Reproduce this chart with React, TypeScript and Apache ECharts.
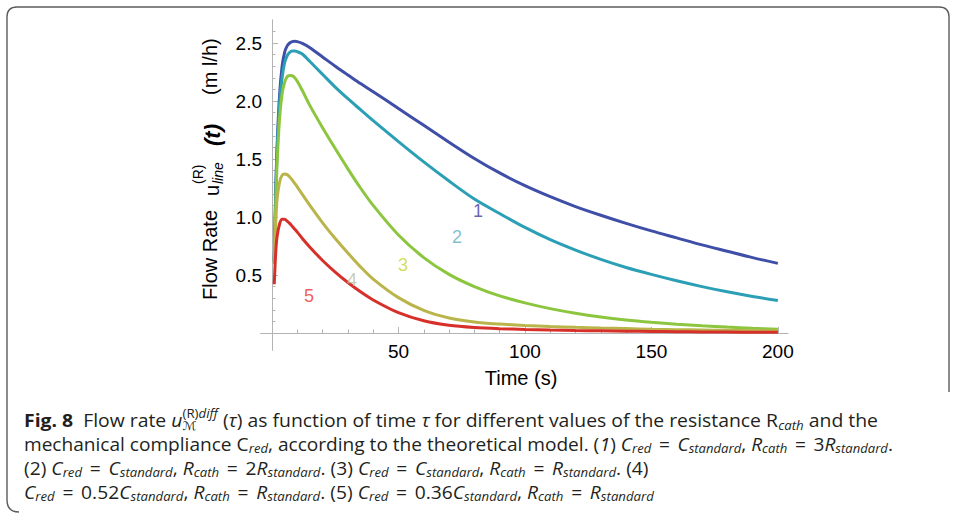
import React, { useEffect, useRef } from "react";
import * as echarts from "echarts";

// ---------- data ----------
const TIME = [0.9, 1.5, 2, 3, 4, 5, 6, 7, 8, 9, 10, 12, 15, 20, 25, 30, 35, 40, 50, 60, 70, 80, 90, 100, 110, 120, 130, 140, 150, 160, 170, 180, 190, 200];
const S1 = [0.62, 1.25, 1.6, 2.05, 2.3, 2.42, 2.475, 2.5, 2.512, 2.515, 2.512, 2.497, 2.46, 2.38, 2.3, 2.225, 2.15, 2.08, 1.935, 1.79, 1.645, 1.505, 1.38, 1.27, 1.175, 1.09, 1.015, 0.945, 0.88, 0.82, 0.76, 0.705, 0.65, 0.6];
const S2 = [0.62, 1.2, 1.55, 1.98, 2.2, 2.33, 2.39, 2.42, 2.43, 2.43, 2.425, 2.405, 2.34, 2.23, 2.12, 2.02, 1.925, 1.83, 1.65, 1.475, 1.31, 1.155, 1.03, 0.91, 0.805, 0.715, 0.635, 0.565, 0.505, 0.45, 0.4, 0.355, 0.315, 0.28];
const S3 = [0.61, 1.1, 1.45, 1.85, 2.06, 2.16, 2.21, 2.22, 2.218, 2.2, 2.17, 2.09, 1.96, 1.77, 1.59, 1.415, 1.25, 1.1, 0.845, 0.65, 0.505, 0.4, 0.32, 0.26, 0.21, 0.17, 0.138, 0.113, 0.093, 0.076, 0.062, 0.051, 0.041, 0.033];
const S4 = [0.6, 0.95, 1.15, 1.3, 1.36, 1.37, 1.365, 1.345, 1.32, 1.29, 1.26, 1.195, 1.1, 0.95, 0.815, 0.69, 0.57, 0.465, 0.305, 0.195, 0.13, 0.095, 0.077, 0.065, 0.056, 0.049, 0.043, 0.038, 0.033, 0.029, 0.026, 0.023, 0.02, 0.018];
const S5 = [0.42, 0.7, 0.83, 0.94, 0.98, 0.98, 0.965, 0.945, 0.92, 0.895, 0.87, 0.815, 0.74, 0.625, 0.525, 0.435, 0.355, 0.285, 0.175, 0.105, 0.066, 0.047, 0.037, 0.031, 0.026, 0.022, 0.019, 0.016, 0.013, 0.011, 0.009, 0.008, 0.007, 0.006];
const SERIES = [S1, S2, S3, S4, S5];
const LINE_COLORS = ["#3f4ea6", "#2b9fb5", "#8cc63e", "#bab54b", "#d7302a"];

const LABEL_TEXT = ["1", "2", "3", "4", "5"];
const LABEL_T = [81.4, 73.1, 51.8, 31.6, 14.6];
const LABEL_V = [1.05, 0.83, 0.59, 0.46, 0.32];
const LABEL_COLORS = ["#45389c", "#5fb0c4", "#c6d62a", "#b6bea2", "#e8352c"];

const X_MAJOR = [0, 50, 100, 150, 200];
const X_LABELS = [50, 100, 150, 200];
const X_MINOR = [10, 20, 30, 40, 60, 70, 80, 90, 110, 120, 130, 140, 160, 170, 180, 190];
const Y_MAJOR = [0.5, 1.0, 1.5, 2.0, 2.5];
const Y_MINOR = [0.1, 0.2, 0.3, 0.4, 0.6, 0.7, 0.8, 0.9, 1.1, 1.2, 1.3, 1.4, 1.6, 1.7, 1.8, 1.9, 2.1, 2.2, 2.3, 2.4, 2.6];

const X_TITLE = "Time (s)";

// caption: [text, code]; codes: n normal, b bold, i italic, sn/si subscript, pn/pi superscript, kn stacked subscript, eq math "="
const CAP1: [string, string][] = [
  ["Fig. 8", "b"], ["  Flow rate ", "n"], ["u", "i"], ["(R)", "pn"], ["diff", "pi"], ["\u2133", "kn"],
  [" (", "n"], ["\u03c4", "i"], [")", "n"], [" as function of time ", "n"], ["\u03c4", "i"],
  [" for different values of the resistance R", "n"], ["cath", "si"], [" and the", "n"],
];
const CAP2: [string, string][] = [
  ["mechanical compliance C", "n"], ["red", "si"], [", according to the theoretical model. (", "n"], ["1", "i"], [") ", "n"],
  ["C", "i"], ["red", "si"], ["=", "eq"], ["C", "i"], ["standard", "si"], [", ", "n"],
  ["R", "i"], ["cath", "si"], ["=", "eq"], ["3", "n"], ["R", "i"], ["standard", "si"], [".", "n"],
];
const CAP3: [string, string][] = [
  ["(2) ", "n"], ["C", "i"], ["red", "si"], ["=", "eq"], ["C", "i"], ["standard", "si"], [", ", "n"],
  ["R", "i"], ["cath", "si"], ["=", "eq"], ["2", "n"], ["R", "i"], ["standard", "si"], [". (3) ", "n"],
  ["C", "i"], ["red", "si"], ["=", "eq"], ["C", "i"], ["standard", "si"], [", ", "n"],
  ["R", "i"], ["cath", "si"], ["=", "eq"], ["R", "i"], ["standard", "si"], [". (4)", "n"],
];
const CAP4: [string, string][] = [
  ["C", "i"], ["red", "si"], ["=", "eq"], ["0.52", "n"], ["C", "i"], ["standard", "si"], [", ", "n"],
  ["R", "i"], ["cath", "si"], ["=", "eq"], ["R", "i"], ["standard", "si"], [". (5) ", "n"],
  ["C", "i"], ["red", "si"], ["=", "eq"], ["0.36", "n"], ["C", "i"], ["standard", "si"], [", ", "n"],
  ["R", "i"], ["cath", "si"], ["=", "eq"], ["R", "i"], ["standard", "si"],
];
const CAPTION = [CAP1, CAP2, CAP3, CAP4];
const CAP_Y = [420, 444, 468, 492];
// right edges of the first two lines (used to set the caption's glyph width)
const CAP_RIGHT = [878, 893];

// ---------- styling ----------
const FONT = "'Liberation Sans', Arial, sans-serif";
const CAP_FAMILY = "'Open Sans', 'DejaVu Sans', sans-serif";
const CAP_COLOR = "#231f20";
const AXIS_COLOR = "#b3b3b3";
const CAP_LEFT = 24;
const EQ_PAD = 7;
const FRAME_D = "M19 512 Q7 512 7 500 L7 17 Q7 7 17 7 L939 7 Q949 7 949 17 L949 392";

let frameRegistered = false;
function registerFrame() {
  if (frameRegistered) return;
  echarts.graphic.registerShape("figFrame", echarts.graphic.extendPath(FRAME_D, {}));
  frameRegistered = true;
}

function layoutCaption(segs: [string, string][], pad: number, ctx: CanvasRenderingContext2D) {
  let x = 0;
  let supStart = 0;
  let prevSup = false;
  const children: any[] = [];
  for (const [t, c] of segs) {
    const pos = c[0] === "s" ? "sub" : c[0] === "p" ? "sup" : c[0] === "k" ? "stack" : "base";
    const italic = c.endsWith("i");
    const bold = c === "b";
    const size = pos === "base" ? 17.5 : 12;
    ctx.font = `${italic ? "italic " : ""}${bold ? "bold " : ""}${size}px ${CAP_FAMILY}`;
    let w = ctx.measureText(t).width;
    if (c === "eq") w += 2 * pad;
    if (pos === "sup" && !prevSup) supStart = x;
    const px = pos === "stack" ? supStart : x;
    const dy = pos === "sub" || pos === "stack" ? 5 : pos === "sup" ? -7 : 0;
    children.push({
      type: "text",
      x: c === "eq" ? px + w / 2 : px,
      y: dy,
      style: {
        text: t,
        fontSize: size,
        fontStyle: italic ? "italic" : "normal",
        fontWeight: bold ? "bold" : "normal",
        fontFamily: CAP_FAMILY,
        fill: CAP_COLOR,
        textAlign: c === "eq" ? "center" : "left",
        verticalAlign: "middle",
      },
    });
    if (pos === "stack") x = Math.max(x, supStart + w);
    else x += w;
    prevSup = pos === "sup";
  }
  return { children, width: x };
}

export default function App() {
  const ref = useRef<HTMLDivElement>(null);
  useEffect(() => {
    if (!ref.current) return;
    registerFrame();
    const chart = echarts.init(ref.current, undefined, { renderer: "svg" });
    const canvas = document.createElement("canvas");
    const ctx = canvas.getContext("2d") as CanvasRenderingContext2D;

    const layouts = CAPTION.map((segs) => layoutCaption(segs, EQ_PAD, ctx));
    const fitScales = CAP_RIGHT.map((r, i) => (r - CAP_LEFT) / layouts[i].width);
    const meanScale = fitScales.reduce((a, b) => a + b, 0) / fitScales.length;
    const captionGroups = layouts.map((lay, i) => ({
      type: "group",
      x: CAP_LEFT,
      y: CAP_Y[i],
      scaleX: i < fitScales.length ? fitScales[i] : meanScale,
      silent: true,
      children: lay.children,
    }));

    const yTitleStyle = (text: string, size: number, extra: any = {}) => ({
      text,
      fontSize: size,
      fontFamily: FONT,
      fill: "#000",
      textAlign: "left",
      verticalAlign: "middle",
      ...extra,
    });

    const lineSeries = SERIES.map((s, k) => ({
      type: "line",
      xAxisIndex: 0,
      yAxisIndex: 0,
      data: TIME.map((t, i) => [t, s[i]]),
      showSymbol: false,
      smooth: 0.3,
      lineStyle: { width: 3, color: LINE_COLORS[k] },
      itemStyle: { color: LINE_COLORS[k] },
      z: 2 + k,
      silent: true,
    }));

    const labelSeries = {
      type: "scatter",
      xAxisIndex: 0,
      yAxisIndex: 0,
      symbolSize: 1,
      itemStyle: { color: "transparent" },
      silent: true,
      z: 10,
      data: LABEL_TEXT.map((s, i) => ({
        value: [LABEL_T[i], LABEL_V[i]],
        label: {
          show: true,
          position: "inside",
          formatter: s,
          color: LABEL_COLORS[i],
          fontSize: 18,
          fontFamily: FONT,
        },
      })),
    };

    const axisCommonX = {
      type: "value",
      min: -4.5,
      max: 204,
      position: "bottom",
      splitLine: { show: false },
    };
    const axisCommonY = {
      type: "value",
      min: -0.15,
      max: 2.7,
      position: "left",
      splitLine: { show: false },
    };

    chart.setOption({
      animation: false,
      backgroundColor: "#ffffff",
      grid: { left: 260.6, right: 169, top: 19.8, bottom: 167.6, containLabel: false },
      xAxis: [
        {
          ...axisCommonX,
          axisLine: { show: true, onZero: true, onZeroAxisIndex: 0, lineStyle: { color: AXIS_COLOR, width: 1 } },
          axisTick: { show: true, inside: true, length: 6, customValues: X_MAJOR, lineStyle: { color: AXIS_COLOR } },
          axisLabel: { show: true, customValues: X_LABELS, margin: -8, color: "#000", fontSize: 19, fontFamily: FONT },
        },
        {
          ...axisCommonX,
          axisLine: { show: false, onZero: true, onZeroAxisIndex: 0 },
          axisTick: { show: true, inside: true, length: 3.5, customValues: X_MINOR, lineStyle: { color: AXIS_COLOR } },
          axisLabel: { show: false },
        },
      ],
      yAxis: [
        {
          ...axisCommonY,
          axisLine: { show: true, onZero: true, onZeroAxisIndex: 0, lineStyle: { color: AXIS_COLOR, width: 1 } },
          axisTick: { show: true, inside: true, length: 6, customValues: Y_MAJOR, lineStyle: { color: AXIS_COLOR } },
          axisLabel: {
            show: true,
            customValues: Y_MAJOR,
            margin: -1.4,
            color: "#000",
            fontSize: 19,
            fontFamily: FONT,
            formatter: (v: number) => v.toFixed(1),
          },
        },
        {
          ...axisCommonY,
          axisLine: { show: false, onZero: true, onZeroAxisIndex: 0 },
          axisTick: { show: true, inside: true, length: 3.5, customValues: Y_MINOR, lineStyle: { color: AXIS_COLOR } },
          axisLabel: { show: false },
        },
      ],
      series: [...lineSeries, labelSeries],
      graphic: [
        {
          type: "figFrame",
          x: 0,
          y: 0,
          silent: true,
          style: { fill: "none", stroke: "#5c5c5c", lineWidth: 1.4 },
        },
        {
          type: "text",
          x: 521,
          y: 378,
          silent: true,
          style: { text: X_TITLE, fontSize: 20, fontFamily: FONT, fill: "#000", textAlign: "center", verticalAlign: "middle" },
        },
        {
          type: "group",
          x: 210,
          y: 300,
          rotation: Math.PI / 2,
          silent: true,
          children: [
            { type: "text", x: 0, y: 0, style: yTitleStyle("Flow Rate", 20) },
            { type: "text", x: 104, y: 2, style: yTitleStyle("u", 20) },
            { type: "text", x: 116, y: -12, style: yTitleStyle("(R)", 14) },
            { type: "text", x: 116, y: 8, style: yTitleStyle("line", 14, { fontStyle: "italic" }) },
            { type: "text", x: 154, y: 2, style: yTitleStyle("(t)", 22, { fontStyle: "italic", fontWeight: "bold" }) },
            { type: "text", x: 205, y: 0, style: yTitleStyle("(m l/h)", 20) },
          ],
        },
        ...captionGroups,
      ],
    });
    return () => chart.dispose();
  }, []);
  return (
    <div
      ref={ref}
      style={{ position: "fixed", left: 0, top: 0, width: 957, height: 518, background: "#fff" }}
    />
  );
}
